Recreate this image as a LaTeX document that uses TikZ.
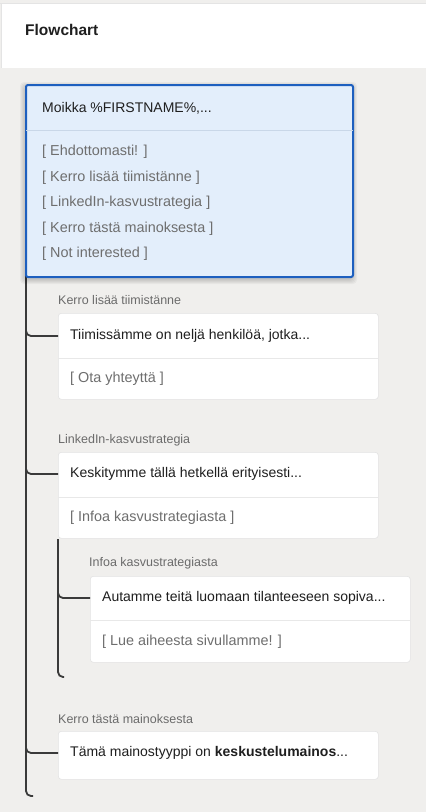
\documentclass[tikz,border=0pt]{standalone}
\usepackage{fontspec}
\setmainfont{Liberation Sans}
\usetikzlibrary{calc}
\definecolor{bgc}{HTML}{F0EFED}
\definecolor{hdrline}{HTML}{E4E4E4}
\definecolor{bluebd}{HTML}{1D5FBF}
\definecolor{bluefill}{HTML}{E3EEFB}
\definecolor{bluediv}{HTML}{C9D7E8}
\definecolor{wbd}{HTML}{E3E3E3}
\definecolor{wdiv}{HTML}{E8E8E8}
\definecolor{txt}{HTML}{1F1F1F}
\definecolor{opt}{HTML}{6E6E6E}
\definecolor{lbl}{HTML}{6B6B6B}
\definecolor{conn}{HTML}{3A3A3A}
\tikzset{
  wbox/.style={draw=wbd, fill=white, rounded corners=3pt, line width=0.6pt, anchor=north west, inner sep=0pt},
  mainbox/.style={draw=bluebd, fill=bluefill, rounded corners=2pt, line width=2pt, anchor=north west, inner sep=0pt},
  shadowlayer/.style={fill=black, fill opacity=0.035, rounded corners=4pt},
  maintxt/.style={anchor=west, inner sep=0pt, text=txt, font=\fontsize{14}{16}\selectfont},
  opttxt/.style={anchor=west, inner sep=0pt, text=opt, font=\fontsize{14.4}{16}\selectfont},
  lbltxt/.style={anchor=west, inner sep=0pt, text=lbl, font=\fontsize{12.5}{14}\selectfont},
  connline/.style={draw=conn, line width=1.8pt, rounded corners=5pt},
}
\begin{document}
\begin{tikzpicture}[x=1pt,y=-1pt]
\useasboundingbox (0,0) rectangle (426,812);
% background
\fill[bgc] (0,0) rectangle (426,812);
\fill[white] (1,3) rectangle (426,68);
\draw[hdrline, line width=0.8pt] (0,3) -- (426,3);
\draw[hdrline, line width=0.8pt] (1,3) -- (1,68);
\node[anchor=west, inner sep=0pt, text=txt, font=\fontsize{15.5}{18}\selectfont\bfseries] (title) at (25,30) {Flowchart};

% trunk
\coordinate (tr) at (26,0);
\coordinate (trend) at (33,796);
\draw[connline] (26,276) -- (26,796) -- (trend);

% main box shadow (soft, below)
\foreach \s in {1,2,3,4,5}{
  \fill[shadowlayer] (25-\s,84-\s+3) rectangle (352+\s,276+\s+3);
}
% main box
\node[mainbox, minimum width=327pt, minimum height=192pt] (m) at (25,84) {};
\draw[bluediv, line width=0.8pt] ($(m.north west)+(1,46)$) -- ($(m.north east)+(-1,46)$);
\node[maintxt] (mt) at (42,108) {Moikka \%FIRSTNAME\%,...};
\node[opttxt] (o1) at (42,152) {[ Ehdottomasti! ]};
\node[opttxt] (o2) at (42,178) {[ Kerro lisää tiimistänne ]};
\node[opttxt] (o3) at (42,203) {[ LinkedIn-kasvustrategia ]};
\node[opttxt] (o4) at (42,229) {[ Kerro tästä mainoksesta ]};
\node[opttxt] (o5) at (42,254) {[ Not interested ]};

% branch 1
\node[lbltxt] (l1) at (58,300) {Kerro lisää tiimistänne};
\node[wbox, minimum width=320pt, minimum height=86pt] (b1) at (58,313) {};
\draw[wdiv, line width=0.8pt] ($(b1.north west)+(0,45)$) -- ($(b1.north east)+(0,45)$);
\node[maintxt] (b1t) at (70,336) {Tiimissämme on neljä henkilöä, jotka...};
\node[opttxt] (b1o) at (70,379) {[ Ota yhteyttä ]};
\draw[connline] ($(tr |- b1t)+(0,-8)$) |- (b1.west |- b1t);

% branch 2
\node[lbltxt] (l2) at (58,440) {LinkedIn-kasvustrategia};
\node[wbox, minimum width=320pt, minimum height=86pt] (b2) at (58,452) {};
\draw[wdiv, line width=0.8pt] ($(b2.north west)+(0,45)$) -- ($(b2.north east)+(0,45)$);
\node[maintxt] (b2t) at (70,474) {Keskitymme tällä hetkellä erityisesti...};
\node[opttxt] (b2o) at (70,518) {[ Infoa kasvustrategiasta ]};
\draw[connline] ($(tr |- b2t)+(0,-8)$) |- (b2.west |- b2t);

% sub trunk
\coordinate (sub) at (58,0);
\coordinate (subend) at (64,677);
\draw[connline] (58,539) -- (58,677) -- (subend);

% branch 2a
\node[lbltxt] (l3) at (89,563) {Infoa kasvustrategiasta};
\node[wbox, minimum width=320pt, minimum height=86pt] (b3) at (90,576) {};
\draw[wdiv, line width=0.8pt] ($(b3.north west)+(0,44)$) -- ($(b3.north east)+(0,44)$);
\node[maintxt] (b3t) at (102,598) {Autamme teitä luomaan tilanteeseen sopiva...};
\node[opttxt] (b3o) at (102,642) {[ Lue aiheesta sivullamme! ]};
\draw[connline] ($(sub |- b3t)+(0,-8)$) |- (b3.west |- b3t);

% branch 3
\node[lbltxt] (l4) at (58,719) {Kerro tästä mainoksesta};
\node[wbox, minimum width=320pt, minimum height=48pt] (b4) at (58,731) {};
\node[maintxt] (b4t) at (70,753) {Tämä mainostyyppi on \textbf{keskustelumainos}...};
\draw[connline] ($(tr |- b4t)+(0,-8)$) |- (b4.west |- b4t);
\end{tikzpicture}
\end{document}
